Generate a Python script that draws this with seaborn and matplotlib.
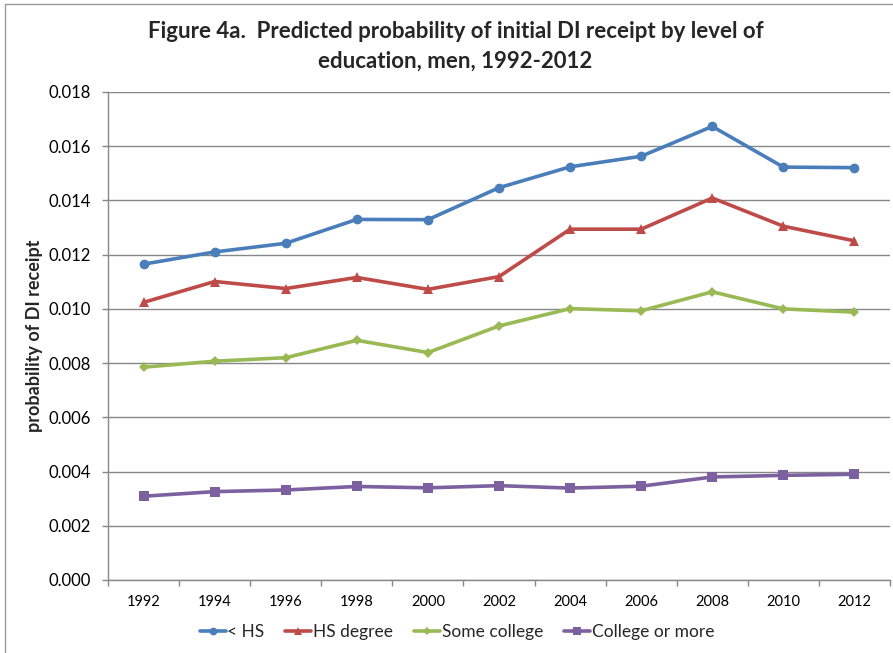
import matplotlib
matplotlib.use("Agg")
import matplotlib.pyplot as plt
import matplotlib.patches as mpatches
from matplotlib.ticker import FixedLocator, NullFormatter, FuncFormatter
import numpy as np
import pandas as pd
import seaborn as sns

# Survey years and predicted probabilities by education group
years = [1992, 1994, 1996, 1998, 2000, 2002, 2004, 2006, 2008, 2010, 2012]
less_hs = [0.01165, 0.01210, 0.01242, 0.01330, 0.01329, 0.01447, 0.01524, 0.01563, 0.01673, 0.01523, 0.01521]
hs_degree = [0.01024, 0.01101, 0.01075, 0.01116, 0.01072, 0.01119, 0.01294, 0.01294, 0.01409, 0.01305, 0.01251]
some_college = [0.00785, 0.00807, 0.00820, 0.00884, 0.00839, 0.00937, 0.01001, 0.00993, 0.01063, 0.01000, 0.00988]
college_more = [0.00309, 0.00326, 0.00332, 0.00345, 0.00340, 0.00348, 0.00339, 0.00346, 0.00380, 0.00386, 0.00390]

groups = ["< HS", "HS degree", "Some college", "College or more"]
y_ticks = [0.000, 0.002, 0.004, 0.006, 0.008, 0.010, 0.012, 0.014, 0.016, 0.018]

series = [less_hs, hs_degree, some_college, college_more]
df = pd.DataFrame({
    "year": np.tile(years, len(groups)),
    "prob": np.concatenate(series),
    "group": np.repeat(groups, len(years)),
})

colors = {"< HS": "#4A7EBB", "HS degree": "#BE4B48",
          "Some college": "#98B954", "College or more": "#7D60A0"}
markers = {"< HS": "o", "HS degree": "^", "Some college": "D", "College or more": "s"}
msizes = {"< HS": 7, "HS degree": 7, "Some college": 5.5, "College or more": 6.5}

sns.set_theme(style="white")
plt.rcParams["font.family"] = ["Lato", "DejaVu Sans"]

fig = plt.figure(figsize=(8.93, 6.53), dpi=100)
ax = fig.add_axes([108 / 893, 1 - 580 / 653, (890 - 108) / 893, (580 - 92) / 653])

sns.lineplot(data=df, x="year", y="prob", hue="group", style="group",
             hue_order=groups, style_order=groups, palette=colors,
             markers=markers, dashes=False, linewidth=2.6,
             markersize=7, markeredgewidth=0, ax=ax, legend=False)

# per-series marker size tweaks
for line, g in zip(ax.get_lines(), groups):
    line.set_markersize(msizes[g])

grid_c = "#878787"
ax.set_xlim(1991, 2013)
ax.set_ylim(0, 0.018)
ax.set_yticks(y_ticks)
ax.yaxis.set_major_formatter(FuncFormatter(lambda v, p: f"{v:.3f}"))
ax.grid(axis="y", color=grid_c, linewidth=1)
ax.set_axisbelow(True)

# category boundaries get the tick marks, labels sit between them
ax.xaxis.set_major_locator(FixedLocator(np.arange(1991, 2014, 2)))
ax.xaxis.set_major_formatter(NullFormatter())
ax.xaxis.set_minor_locator(FixedLocator(years))
ax.xaxis.set_minor_formatter(FuncFormatter(lambda v, p: f"{int(round(v))}"))
ax.tick_params(axis="x", which="major", length=4, color=grid_c, width=1, direction="out", bottom=True)
ax.tick_params(axis="x", which="minor", length=0, pad=11, labelsize=10.5, labelcolor="black")
ax.tick_params(axis="y", length=4, color=grid_c, width=1, direction="out", left=True,
               pad=8, labelsize=12, labelcolor="black")

for s in ["top", "right"]:
    ax.spines[s].set_visible(False)
for s in ["left", "bottom"]:
    ax.spines[s].set_color(grid_c)
    ax.spines[s].set_linewidth(1)

ax.set_xlabel("")
ax.set_ylabel("probability of DI receipt", fontsize=13, fontweight="bold", labelpad=4)

fig.text(0.51, 1 - 31 / 653, "Figure 4a.  Predicted probability of initial DI receipt by level of",
         ha="center", va="center", fontsize=16, fontweight="bold")
fig.text(0.51, 1 - 61 / 653, "education, men, 1992-2012",
         ha="center", va="center", fontsize=16, fontweight="bold")

handles = [plt.Line2D([], [], color=colors[g], marker=markers[g], linewidth=2.6,
                      markersize=msizes[g] * 0.8, markeredgewidth=0) for g in groups]
fig.legend(handles, groups, loc="center", bbox_to_anchor=(457 / 893, 1 - 632 / 653),
           ncol=4, frameon=False, fontsize=12.5, handlelength=1.5,
           handletextpad=0.1, columnspacing=1.2)

# chart-area border
fig.patches.append(mpatches.Rectangle((5 / 893, -0.1), 2.0, 1 - 4 / 653 + 0.1,
                                      transform=fig.transFigure, fill=False,
                                      edgecolor="#9a9a9a", linewidth=1))

fig.savefig("out.png", dpi=100)
